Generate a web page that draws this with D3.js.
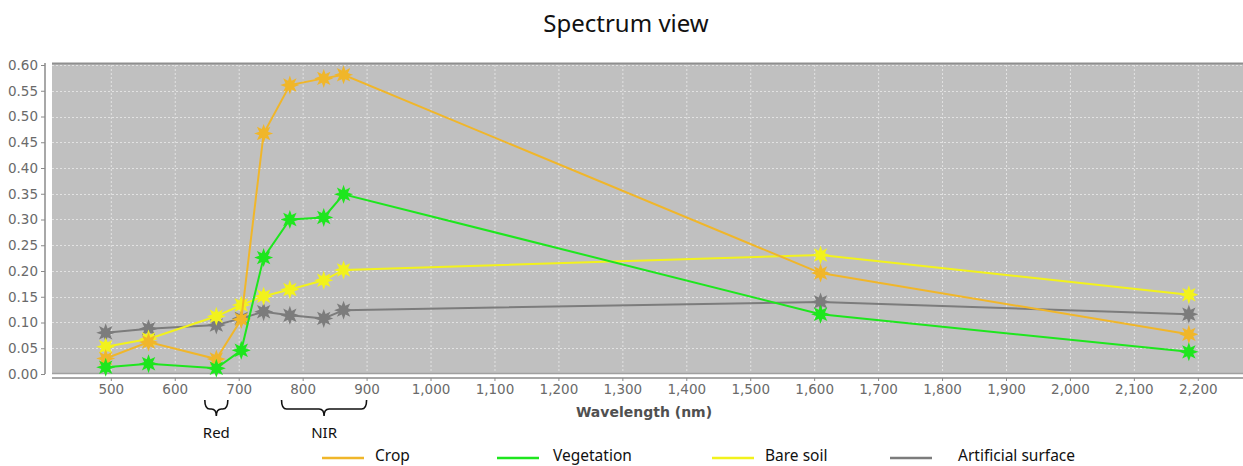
<!DOCTYPE html>
<html>
<head>
<meta charset="utf-8">
<script src="https://cdn.jsdelivr.net/npm/d3@7"></script>
<style>
  body { margin: 0; background: #fff; }
  svg { display: block; }
</style>
</head>
<body>
<svg id="chart" width="1243" height="466"></svg>
<script>
// Sentinel-2 band centres (nm)
var wavelengths = [492, 559, 665, 704, 739, 780, 833, 864, 1610, 2186]

var crop       = [0.030, 0.062, 0.029, 0.106, 0.467, 0.561, 0.574, 0.581, 0.196, 0.077]
var vegetation = [0.013, 0.020, 0.011, 0.046, 0.226, 0.300, 0.304, 0.349, 0.116, 0.043]
var bareSoil   = [0.053, 0.068, 0.112, 0.134, 0.151, 0.164, 0.182, 0.202, 0.231, 0.154]
var artificial = [0.080, 0.088, 0.095, 0.108, 0.121, 0.114, 0.108, 0.124, 0.140, 0.116]

var seriesNames  = ["Crop", "Vegetation", "Bare soil", "Artificial surface"]
var seriesColors = ["#f0b62a", "#1ee61e", "#f2f21c", "#7c7c7c"]

var xTicks = d3.range(500, 2201, 100)
var yTicks = d3.range(0, 0.601, 0.05)

// bracket annotations under the x axis
var bands = [
  {name: "Red", from: 647, to: 683},
  {name: "NIR", from: 767, to: 900}
]

var svg = d3.select("#chart")

var plot = {left: 52, right: 1243, top: 63, bottom: 374}

var x = d3.scaleLinear()
    .domain([408, 408 + (plot.right - plot.left) / 0.6394])
    .range([plot.left, plot.right])
var y = d3.scaleLinear()
    .domain([0, 0.6])
    .range([plot.bottom, plot.top + 2])

// title
svg.append("text")
    .attr("x", 626).attr("y", 32)
    .attr("text-anchor", "middle")
    .attr("font-family", "Noto Sans, sans-serif")
    .attr("font-size", 24)
    .attr("fill", "#111")
    .text("Spectrum view")

// plot background
svg.append("rect")
    .attr("x", plot.left).attr("y", plot.top)
    .attr("width", plot.right - plot.left)
    .attr("height", plot.bottom - plot.top)
    .attr("fill", "#c0c0c0")
svg.append("line")
    .attr("x1", plot.left).attr("x2", plot.right)
    .attr("y1", plot.top + 0.5).attr("y2", plot.top + 0.5)
    .attr("stroke", "#8f8f8f").attr("stroke-width", 2)
svg.append("line")
    .attr("x1", plot.left).attr("x2", plot.right)
    .attr("y1", plot.bottom - 0.5).attr("y2", plot.bottom - 0.5)
    .attr("stroke", "#a0a0a0").attr("stroke-width", 1.5)

// grid
var grid = svg.append("g")
    .attr("stroke", "#e2e2e2")
    .attr("stroke-width", 1)
    .attr("stroke-dasharray", "2,2")
grid.selectAll(".gx")
    .data(xTicks)
    .enter()
    .append("line")
      .attr("x1", d => x(d) + 0.5).attr("x2", d => x(d) + 0.5)
      .attr("y1", plot.top + 2).attr("y2", plot.bottom - 1)
grid.selectAll(".gy")
    .data(yTicks.slice(1))
    .enter()
    .append("line")
      .attr("x1", plot.left).attr("x2", plot.right)
      .attr("y1", d => Math.round(y(d)) + 0.5).attr("y2", d => Math.round(y(d)) + 0.5)

// axes
var yAxis = svg.append("g")
    .attr("transform", "translate(45,0)")
    .call(d3.axisLeft(y).tickValues(yTicks).tickSize(4).tickPadding(3)
      .tickFormat(d3.format(".2f")))
var xAxis = svg.append("g")
    .attr("transform", "translate(0,378)")
    .call(d3.axisBottom(x).tickValues(xTicks).tickSize(3).tickPadding(3)
      .tickFormat(d3.format(",")))

;[yAxis, xAxis].forEach(function(ax) {
  ax.select(".domain").attr("stroke", "#a8a8a8").attr("stroke-width", 2)
  ax.selectAll(".tick line").attr("stroke", "#8a8a8a")
  ax.selectAll("text")
      .attr("font-family", "DejaVu Sans, sans-serif")
      .attr("font-size", 13.5)
      .attr("fill", "#6a6a6a")
})
xAxis.select(".domain").attr("d", "M" + plot.left + ",0H" + plot.right)
yAxis.select(".domain").attr("d", "M0," + plot.top + "V" + plot.bottom)

svg.append("text")
    .attr("x", 644).attr("y", 417)
    .attr("text-anchor", "middle")
    .attr("font-family", "DejaVu Sans, sans-serif")
    .attr("font-weight", "bold")
    .attr("font-size", 14)
    .attr("fill", "#505050")
    .text("Wavelength (nm)")

// series
var data = [crop, vegetation, bareSoil, artificial].map(function(vals, i) {
  return {
    name: seriesNames[i],
    color: seriesColors[i],
    points: vals.map((v, j) => ({w: wavelengths[j], v: v}))
  }
})

var line = d3.line().x(d => x(d.w)).y(d => y(d.v))

// 8-point star marker
function starPath(r) {
  var pts = []
  for (var k = 0; k < 16; k++) {
    var a = Math.PI * k / 8 - Math.PI / 2
    var rr = k % 2 == 0 ? r : r * 0.5
    pts.push([Math.cos(a) * rr, Math.sin(a) * rr])
  }
  return "M" + pts.join("L") + "Z"
}

var order = [3, 2, 0, 1]
order.forEach(function(i) {
  var s = data[i]
  var g = svg.append("g")
  g.append("path")
      .attr("d", line(s.points))
      .attr("fill", "none")
      .attr("stroke", s.color)
      .attr("stroke-width", 2)
  g.selectAll("path.m")
      .data(s.points)
      .enter()
      .append("path")
        .attr("class", "m")
        .attr("transform", d => "translate(" + x(d.w) + "," + y(d.v) + ")")
        .attr("d", starPath(9.5))
        .attr("fill", s.color)
})

// band brackets
bands.forEach(function(b) {
  var x0 = x(b.from), x1 = x(b.to), xm = (x0 + x1) / 2
  var top = 400, mid = 409
  var p = "M" + x0 + "," + top +
          "Q" + x0 + "," + mid + " " + (x0 + 5) + "," + mid +
          "L" + (xm - 5) + "," + mid +
          "Q" + xm + "," + mid + " " + xm + "," + (mid + 7) +
          "Q" + xm + "," + mid + " " + (xm + 5) + "," + mid +
          "L" + (x1 - 5) + "," + mid +
          "Q" + x1 + "," + mid + " " + x1 + "," + top
  svg.append("path")
      .attr("d", p)
      .attr("fill", "none")
      .attr("stroke", "#111")
      .attr("stroke-width", 1.6)
  svg.append("text")
      .attr("x", xm).attr("y", 438)
      .attr("text-anchor", "middle")
      .attr("font-family", "Noto Sans, sans-serif")
      .attr("font-size", 15)
      .attr("fill", "#111")
      .text(b.name)
})

// legend
var legendX = [322, 497, 712, 890]
var legendTextX = [375, 553, 765, 958]
var legend = svg.selectAll(".leg")
    .data(data)
    .enter()
    .append("g")
legend.append("line")
    .attr("x1", (d, i) => legendX[i]).attr("x2", (d, i) => legendX[i] + 42)
    .attr("y1", 458).attr("y2", 458)
    .attr("stroke", d => d.color)
    .attr("stroke-width", 2.5)
legend.append("text")
    .attr("x", (d, i) => legendTextX[i]).attr("y", 461)
    .attr("font-family", "Noto Sans, sans-serif")
    .attr("font-size", 15.5)
    .attr("fill", "#111")
    .text(d => d.name)
</script>
</body>
</html>
